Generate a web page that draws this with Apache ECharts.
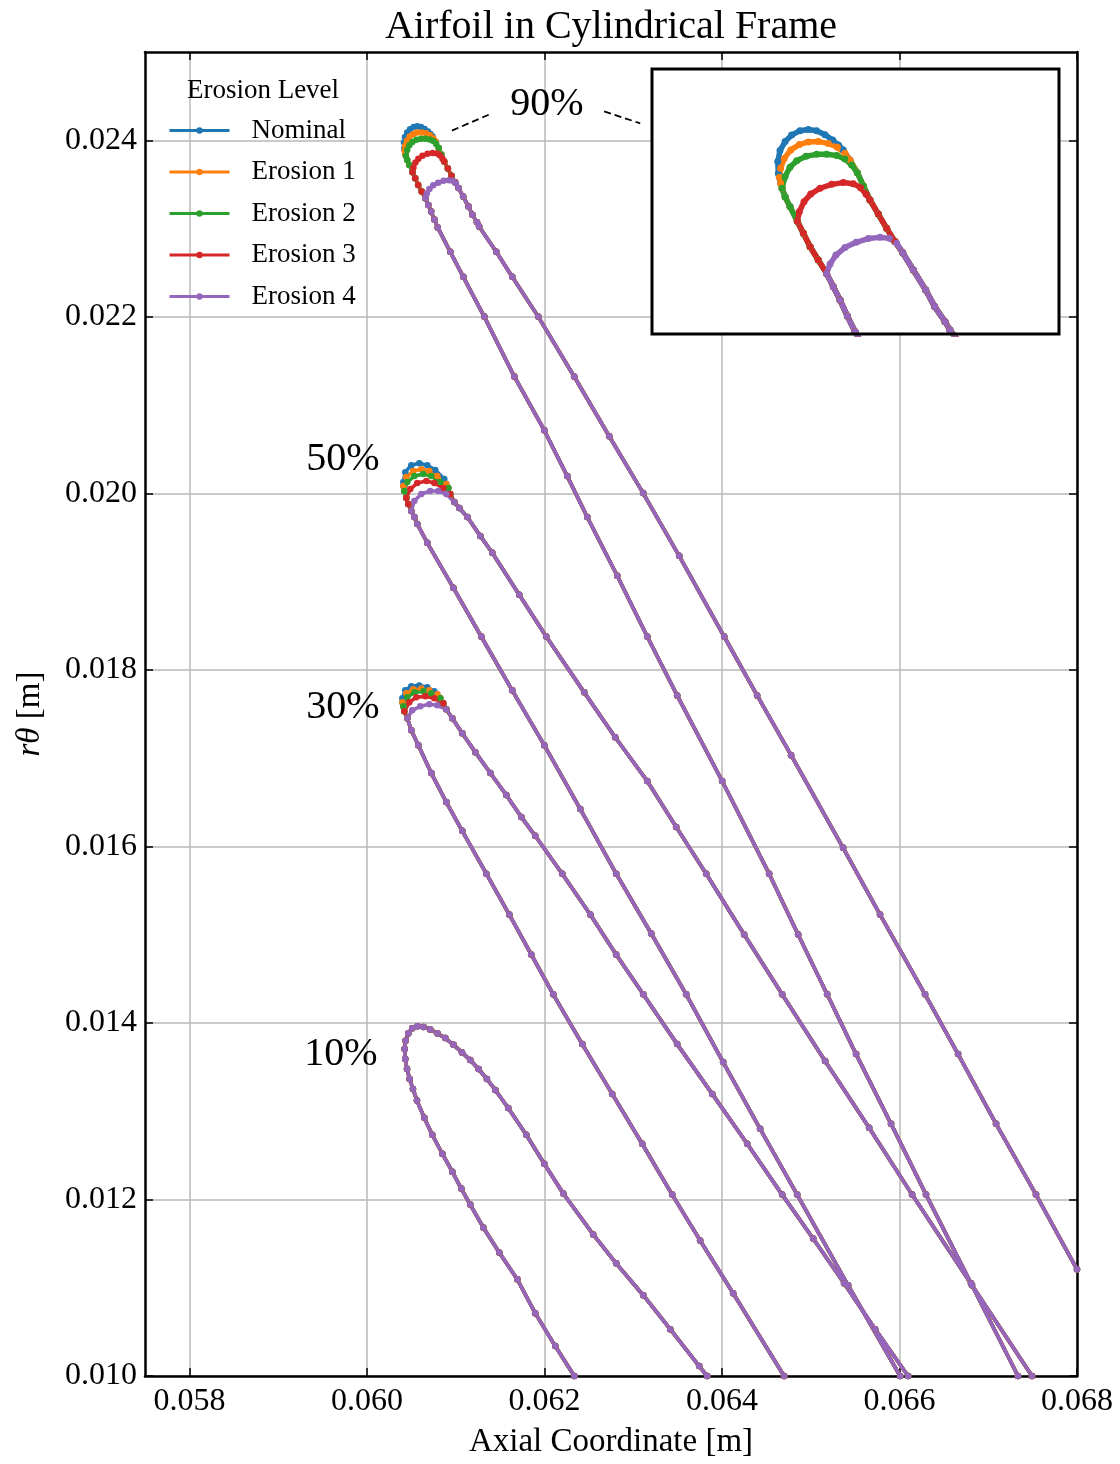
<!DOCTYPE html>
<html>
<head>
<meta charset="utf-8">
<title>Airfoil in Cylindrical Frame</title>
<script src="https://cdn.jsdelivr.net/npm/echarts@6.0.0/dist/echarts.min.js"></script>
<style>
  html, body { margin: 0; padding: 0; background: #fff; }
  #chart { width: 1120px; height: 1464px; }
</style>
</head>
<body>
<div id="chart"></div>
<script>
// tick labels
const xTicks = [0.058, 0.060, 0.062, 0.064, 0.066, 0.068]
const yTicks = [0.010, 0.012, 0.014, 0.016, 0.018, 0.020, 0.022, 0.024]

// erosion levels
const levelNames = ['Nominal', 'Erosion 1', 'Erosion 2', 'Erosion 3', 'Erosion 4']
const levelColors = ['#1f77b4', '#ff7f0e', '#2ca02c', '#d62728', '#9467bd']

// 10% span - every level gives the same profile
const pressure10 = [[0.060425, 0.013704], [0.060432, 0.013591], [0.060452, 0.013478], [0.060481, 0.013365], [0.060519, 0.013252], [0.060564, 0.013120], [0.060646, 0.012925], [0.060736, 0.012733], [0.060849, 0.012518], [0.060962, 0.012315], [0.061063, 0.012123], [0.061164, 0.011942], [0.061311, 0.011683], [0.061491, 0.011400], [0.061694, 0.011096], [0.061896, 0.010712], [0.062122, 0.010339], [0.062336, 0.010000]]
const nose10 = [[0.060436, 0.013797], [0.060466, 0.013881], [0.060511, 0.013941], [0.060571, 0.013963], [0.060638, 0.013955], [0.060714, 0.013926], [0.060796, 0.013881], [0.060883, 0.013828]]
const suction10 = [[0.060976, 0.013752], [0.061071, 0.013666], [0.061164, 0.013579], [0.061258, 0.013478], [0.061352, 0.013365], [0.061446, 0.013241], [0.061592, 0.013037], [0.061795, 0.012733], [0.061998, 0.012405], [0.062212, 0.012067], [0.062549, 0.011604], [0.062808, 0.011276], [0.063113, 0.010915], [0.063417, 0.010531], [0.063743, 0.010113], [0.063833, 0.010000]]

// 30% span
const pressure30 = [[0.060399, 0.017678], [0.060399, 0.017632], [0.060410, 0.017587], [0.060421, 0.017531], [0.060455, 0.017452], [0.060500, 0.017316], [0.060579, 0.017147], [0.060725, 0.016831], [0.060894, 0.016503], [0.061074, 0.016177], [0.061345, 0.015691], [0.061604, 0.015228], [0.061851, 0.014776], [0.062099, 0.014324], [0.062426, 0.013760], [0.062763, 0.013196], [0.063101, 0.012631], [0.063439, 0.012055], [0.063754, 0.011536], [0.064126, 0.010938], [0.064700, 0.010000]]
const nose30 = [
  [[0.060399, 0.017678], [0.060432, 0.017768], [0.060500, 0.017813], [0.060590, 0.017824], [0.060680, 0.017802], [0.060759, 0.017757]],
  [[0.060399, 0.017632], [0.060444, 0.017734], [0.060522, 0.017779], [0.060613, 0.017790], [0.060703, 0.017768], [0.060793, 0.017723]],
  [[0.060410, 0.017587], [0.060455, 0.017689], [0.060534, 0.017745], [0.060635, 0.017757], [0.060725, 0.017734], [0.060827, 0.017678]],
  [[0.060421, 0.017531], [0.060477, 0.017632], [0.060556, 0.017689], [0.060658, 0.017700], [0.060759, 0.017678], [0.060860, 0.017621]],
  [[0.060455, 0.017452], [0.060511, 0.017542], [0.060601, 0.017587], [0.060703, 0.017610], [0.060793, 0.017599], [0.060894, 0.017553]]
]
const suction30 = [[0.060759, 0.017757], [0.060793, 0.017723], [0.060827, 0.017678], [0.060860, 0.017621], [0.060894, 0.017553], [0.060962, 0.017452], [0.061074, 0.017282], [0.061221, 0.017068], [0.061390, 0.016831], [0.061570, 0.016582], [0.061739, 0.016334], [0.061896, 0.016120], [0.062200, 0.015691], [0.062516, 0.015228], [0.062808, 0.014776], [0.063113, 0.014324], [0.063495, 0.013760], [0.063890, 0.013196], [0.064284, 0.012631], [0.064678, 0.012055], [0.065027, 0.011558], [0.065376, 0.011050], [0.065725, 0.010531], [0.066097, 0.010000]]

// 50% span
const pressure50 = [[0.060410, 0.020128], [0.060410, 0.020082], [0.060421, 0.020026], [0.060444, 0.019947], [0.060466, 0.019879], [0.060500, 0.019800], [0.060534, 0.019732], [0.060567, 0.019653], [0.060680, 0.019439], [0.060973, 0.018931], [0.061288, 0.018378], [0.061637, 0.017768], [0.061998, 0.017147], [0.062403, 0.016424], [0.062808, 0.015691], [0.063203, 0.015013], [0.063597, 0.014324], [0.064013, 0.013557], [0.064430, 0.012800], [0.064847, 0.012055], [0.065421, 0.011028], [0.066007, 0.010000]]
const nose50 = [
  [[0.060410, 0.020128], [0.060432, 0.020240], [0.060500, 0.020319], [0.060590, 0.020342], [0.060680, 0.020319], [0.060770, 0.020263], [0.060872, 0.020161]],
  [[0.060410, 0.020082], [0.060444, 0.020184], [0.060522, 0.020252], [0.060613, 0.020274], [0.060703, 0.020252], [0.060793, 0.020195], [0.060894, 0.020105]],
  [[0.060421, 0.020026], [0.060455, 0.020128], [0.060534, 0.020195], [0.060635, 0.020218], [0.060725, 0.020195], [0.060827, 0.020128], [0.060917, 0.020060]],
  [[0.060444, 0.019947], [0.060489, 0.020049], [0.060567, 0.020116], [0.060669, 0.020139], [0.060759, 0.020116], [0.060860, 0.020060], [0.060939, 0.019992]],
  [[0.060500, 0.019800], [0.060534, 0.019913], [0.060613, 0.019992], [0.060714, 0.020026], [0.060804, 0.020026], [0.060894, 0.019992], [0.060984, 0.019902]]
]
const suction50 = [[0.060872, 0.020161], [0.060894, 0.020105], [0.060917, 0.020060], [0.060939, 0.019992], [0.060984, 0.019902], [0.061041, 0.019834], [0.061131, 0.019732], [0.061277, 0.019518], [0.061412, 0.019326], [0.061716, 0.018852], [0.062020, 0.018378], [0.062448, 0.017745], [0.062797, 0.017237], [0.063158, 0.016741], [0.063484, 0.016221], [0.063822, 0.015691], [0.064250, 0.015002], [0.064678, 0.014324], [0.065162, 0.013568], [0.065658, 0.012812], [0.066142, 0.012055], [0.066817, 0.011028], [0.067493, 0.010000]]

// 90% span
const pressure90 = [[0.060421, 0.023909], [0.060426, 0.023887], [0.060432, 0.023853], [0.060439, 0.023825], [0.060454, 0.023777], [0.060478, 0.023721], [0.060514, 0.023638], [0.060544, 0.023570], [0.060577, 0.023494], [0.060617, 0.023419], [0.060658, 0.023343], [0.060691, 0.023268], [0.060724, 0.023192], [0.060760, 0.023102], [0.060798, 0.023013], [0.060939, 0.022736], [0.061086, 0.022453], [0.061322, 0.022002], [0.061660, 0.021324], [0.061998, 0.020715], [0.062257, 0.020195], [0.062482, 0.019732], [0.062820, 0.019066], [0.063158, 0.018378], [0.063495, 0.017711], [0.064002, 0.016741], [0.064531, 0.015691], [0.064858, 0.015002], [0.065185, 0.014324], [0.065511, 0.013647], [0.065905, 0.012857], [0.066299, 0.012055], [0.066806, 0.011050], [0.067335, 0.010000]]
const nose90 = [
  [[0.060421, 0.023909], [0.060418, 0.023976], [0.060429, 0.024038], [0.060454, 0.024089], [0.060486, 0.024126], [0.060527, 0.024151], [0.060568, 0.024158], [0.060609, 0.024151], [0.060650, 0.024128], [0.060688, 0.024098], [0.060716, 0.024070], [0.060740, 0.024042]],
  [[0.060426, 0.023887], [0.060432, 0.023938], [0.060450, 0.023994], [0.060482, 0.024042], [0.060524, 0.024072], [0.060568, 0.024087], [0.060617, 0.024089], [0.060667, 0.024079], [0.060711, 0.024057], [0.060748, 0.024023], [0.060773, 0.023985]],
  [[0.060439, 0.023825], [0.060454, 0.023891], [0.060478, 0.023944], [0.060511, 0.023981], [0.060557, 0.024006], [0.060609, 0.024017], [0.060658, 0.024017], [0.060708, 0.024010], [0.060748, 0.023991], [0.060781, 0.023957], [0.060809, 0.023913]],
  [[0.060514, 0.023638], [0.060524, 0.023692], [0.060547, 0.023749], [0.060580, 0.023792], [0.060626, 0.023825], [0.060683, 0.023847], [0.060740, 0.023857], [0.060789, 0.023851], [0.060825, 0.023828], [0.060852, 0.023791], [0.060871, 0.023759]],
  [[0.060658, 0.023343], [0.060675, 0.023396], [0.060704, 0.023447], [0.060748, 0.023489], [0.060803, 0.023519], [0.060863, 0.023540], [0.060921, 0.023547], [0.060966, 0.023542], [0.061002, 0.023513], [0.061032, 0.023460]]
]
const suction90 = [[0.060740, 0.024042], [0.060773, 0.023985], [0.060809, 0.023913], [0.060839, 0.023838], [0.060871, 0.023759], [0.060912, 0.023679], [0.060953, 0.023598], [0.060994, 0.023523], [0.061032, 0.023460], [0.061084, 0.023362], [0.061145, 0.023249], [0.061189, 0.023155], [0.061240, 0.023070], [0.061264, 0.023023], [0.061457, 0.022736], [0.061637, 0.022453], [0.061930, 0.022002], [0.062335, 0.021324], [0.062730, 0.020647], [0.063112, 0.020003], [0.063518, 0.019292], [0.064025, 0.018378], [0.064396, 0.017711], [0.064779, 0.017034], [0.065365, 0.015984], [0.065781, 0.015228], [0.066288, 0.014324], [0.066660, 0.013647], [0.067088, 0.012857], [0.067538, 0.012055], [0.068000, 0.011208]]

// dashed pointers next to the 90% label
const pointerA = [[0.060958, 0.024110], [0.061409, 0.024305]]
const pointerB = [[0.062673, 0.024327], [0.063079, 0.024192]]

// inset window
const insetX = [0.0598, 0.0618]
const insetY = [0.0230, 0.0245]

const fontFamily = "'Liberation Serif', 'DejaVu Serif', serif"

// pressure side (trailing -> nose), nose arc, suction side (nose -> trailing)
function buildPath (pressure, suction, nose) {
  let yStart = nose[0][1]
  let yEnd = nose[nose.length - 1][1]
  let front = pressure.filter(p => p[1] < yStart).reverse()
  let back = suction.filter(p => p[1] < yEnd)
  return front.concat(nose, back)
}

const sections = [
  { pressure: pressure10, suction: suction10, noses: levelNames.map(() => nose10) },
  { pressure: pressure30, suction: suction30, noses: nose30 },
  { pressure: pressure50, suction: suction50, noses: nose50 },
  { pressure: pressure90, suction: suction90, noses: nose90 }
]

let series = []
levelNames.forEach((name, i) => {
  sections.forEach(sec => {
    series.push({
      name: name,
      type: 'line',
      xAxisIndex: 0,
      yAxisIndex: 0,
      data: buildPath(sec.pressure, sec.suction, sec.noses[i]),
      symbol: 'circle',
      symbolSize: 6.5,
      showSymbol: true,
      color: levelColors[i],
      lineStyle: { width: 3.6, color: levelColors[i] },
      itemStyle: { color: levelColors[i] },
      z: 3
    })
  })
})
// zoomed copy of the 90% nose
levelNames.forEach((name, i) => {
  series.push({
    name: name,
    type: 'line',
    xAxisIndex: 2,
    yAxisIndex: 2,
    data: buildPath(pressure90, suction90, nose90[i]),
    symbol: 'circle',
    symbolSize: 7,
    showSymbol: true,
    color: levelColors[i],
    lineStyle: { width: 5.5, color: levelColors[i] },
    itemStyle: { color: levelColors[i] },
    z: 20
  })
})
let pointers = [pointerA, pointerB]
pointers.forEach(p => {
  series.push({
    type: 'line',
    xAxisIndex: 0,
    yAxisIndex: 0,
    data: p,
    symbol: 'none',
    lineStyle: { color: '#000', width: 1.8, type: [7, 4] },
    z: 4,
    silent: true
  })
})

const frameLine = { show: true, onZero: false, lineStyle: { color: '#000', width: 2.5 } }
const tickX = { show: true, inside: true, length: 8, customValues: xTicks, lineStyle: { color: '#000', width: 1.5 } }
const tickY = { show: true, inside: true, length: 8, customValues: yTicks, lineStyle: { color: '#000', width: 1.5 } }
const gridLine = { show: true, lineStyle: { color: '#b8b8b8', width: 1.5 } }
const labelStyle = { color: '#000', fontFamily: fontFamily, fontSize: 32 }

let chart = echarts.init(document.getElementById('chart'))
chart.setOption({
  animation: false,
  backgroundColor: '#fff',
  grid: [
    { left: 145, top: 52, width: 932, height: 1331 },
    { left: 652, top: 69, width: 407, height: 265 }
  ],
  legend: {
    data: levelNames,
    orient: 'vertical',
    left: 168,
    top: 117,
    padding: 0,
    itemWidth: 60,
    itemHeight: 8,
    itemGap: 14.5,
    lineStyle: { width: 3 },
    textStyle: { color: '#000', fontFamily: fontFamily, fontSize: 27, padding: [0, 0, 0, 17] }
  },
  xAxis: [
    {
      type: 'value',
      gridIndex: 0,
      position: 'bottom',
      min: 0.0575,
      max: 0.068,
      axisLine: frameLine,
      axisTick: tickX,
      splitLine: gridLine,
      axisLabel: Object.assign({ customValues: xTicks, margin: 10, formatter: v => v.toFixed(3) }, labelStyle),
      name: 'Axial Coordinate [m]',
      nameLocation: 'middle',
      nameGap: 50,
      nameTextStyle: { color: '#000', fontFamily: fontFamily, fontSize: 33 }
    },
    {
      type: 'value',
      gridIndex: 0,
      position: 'top',
      min: 0.0575,
      max: 0.068,
      axisLine: frameLine,
      axisTick: tickX,
      splitLine: { show: false },
      axisLabel: { show: false }
    },
    { type: 'value', gridIndex: 1, min: insetX[0], max: insetX[1], show: false }
  ],
  yAxis: [
    {
      type: 'value',
      gridIndex: 0,
      position: 'left',
      min: 0.010,
      max: 0.025,
      axisLine: frameLine,
      axisTick: tickY,
      splitLine: gridLine,
      axisLabel: Object.assign({ customValues: yTicks, margin: 8, formatter: v => v.toFixed(3) }, labelStyle),
      name: '{it|rθ} [m]',
      nameLocation: 'middle',
      nameGap: 98,
      nameTextStyle: {
        color: '#000',
        fontFamily: fontFamily,
        fontSize: 33,
        rich: { it: { fontStyle: 'italic', fontFamily: fontFamily, fontSize: 33, color: '#000' } }
      }
    },
    {
      type: 'value',
      gridIndex: 0,
      position: 'right',
      min: 0.010,
      max: 0.025,
      axisLine: frameLine,
      axisTick: tickY,
      splitLine: { show: false },
      axisLabel: { show: false }
    },
    { type: 'value', gridIndex: 1, min: insetY[0], max: insetY[1], show: false }
  ],
  graphic: [
    {
      type: 'text', x: 611, y: 27, z: 5,
      style: { text: 'Airfoil in Cylindrical Frame', font: '40px ' + fontFamily, fill: '#000', textAlign: 'center', textVerticalAlign: 'middle', align: 'center', verticalAlign: 'middle' }
    },
    {
      type: 'text', x: 263, y: 91, z: 5,
      style: { text: 'Erosion Level', font: '27px ' + fontFamily, fill: '#000', textAlign: 'center', textVerticalAlign: 'middle', align: 'center', verticalAlign: 'middle' }
    },
    {
      type: 'text', x: 547, y: 104, z: 5,
      style: { text: '90%', font: '40px ' + fontFamily, fill: '#000', textAlign: 'center', textVerticalAlign: 'middle', align: 'center', verticalAlign: 'middle' }
    },
    {
      type: 'text', x: 343, y: 459, z: 5,
      style: { text: '50%', font: '40px ' + fontFamily, fill: '#000', textAlign: 'center', textVerticalAlign: 'middle', align: 'center', verticalAlign: 'middle' }
    },
    {
      type: 'text', x: 343, y: 707, z: 5,
      style: { text: '30%', font: '40px ' + fontFamily, fill: '#000', textAlign: 'center', textVerticalAlign: 'middle', align: 'center', verticalAlign: 'middle' }
    },
    {
      type: 'text', x: 341, y: 1054, z: 5,
      style: { text: '10%', font: '40px ' + fontFamily, fill: '#000', textAlign: 'center', textVerticalAlign: 'middle', align: 'center', verticalAlign: 'middle' }
    },
    {
      type: 'rect', z: 10,
      shape: { x: 652, y: 69, width: 407, height: 265 },
      style: { fill: '#fff', stroke: 'none' }
    },
    {
      type: 'rect', z: 30,
      shape: { x: 652, y: 69, width: 407, height: 265 },
      style: { fill: 'none', stroke: '#000', lineWidth: 3 }
    }
  ],
  series: series
})
</script>
</body>
</html>
